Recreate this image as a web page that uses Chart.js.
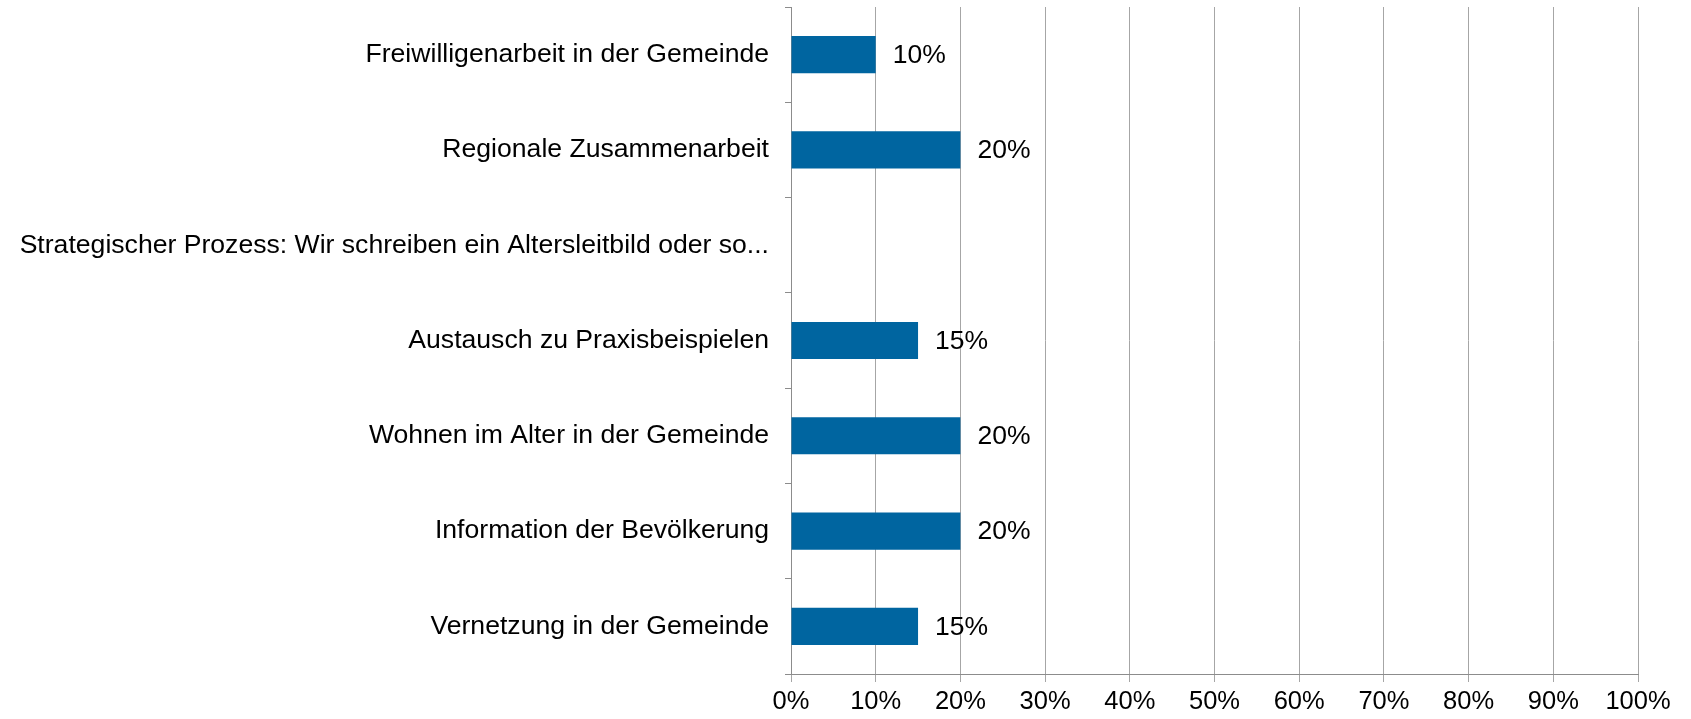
<!DOCTYPE html>
<html lang="de">
<head>
<meta charset="utf-8">
<style>
  html, body { margin: 0; padding: 0; background: #fff; }
</style>
</head>
<body>
<canvas id="myChart" width="1691" height="719"></canvas>
<script src="https://cdn.jsdelivr.net/npm/chart.js"></script>
<script>
const categories = [
  'Freiwilligenarbeit in der Gemeinde',
  'Regionale Zusammenarbeit',
  'Strategischer Prozess: Wir schreiben ein Altersleitbild oder so...',
  'Austausch zu Praxisbeispielen',
  'Wohnen im Alter in der Gemeinde',
  'Information der Bevölkerung',
  'Vernetzung in der Gemeinde'
];
const shares = [10, 20, 0, 15, 20, 20, 15];
const xTicks = [0, 10, 20, 30, 40, 50, 60, 70, 80, 90, 100];

const FONT = "'Liberation Sans', Arial, sans-serif";

// value labels to the right of each bar
const valueLabels = {
  id: 'valueLabels',
  afterDatasetsDraw(chart) {
    const ctx = chart.ctx;
    const meta = chart.getDatasetMeta(0);
    ctx.save();
    ctx.font = '26.5px ' + FONT;
    ctx.fillStyle = '#000';
    ctx.textAlign = 'left';
    ctx.textBaseline = 'middle';
    meta.data.forEach((bar, i) => {
      if (!shares[i]) return;
      ctx.fillText(shares[i] + '%', bar.x + 17, bar.y + 1);
    });
    ctx.restore();
  }
};

const config = {
  type: 'bar',
  data: {
    labels: categories,
    datasets: [{
      data: shares,
      backgroundColor: '#0065a0',
      borderWidth: 0,
      barPercentage: 0.39,
      categoryPercentage: 1
    }]
  },
  options: {
    indexAxis: 'y',
    responsive: false,
    animation: false,
    events: [],
    layout: { padding: { top: 7, right: 53, left: 0, bottom: 0 } },
    plugins: {
      legend: { display: false },
      tooltip: { enabled: false }
    },
    scales: {
      x: {
        min: 0,
        max: 100,
        afterBuildTicks: (scale) => { scale.ticks = xTicks.map(v => ({ value: v })); },
        afterFit: (scale) => { scale.height = 45; scale.paddingLeft = 0; scale.paddingRight = 0; },
        border: { color: '#8c8c8c', width: 1 },
        grid: {
          color: '#a6a6a6',
          lineWidth: 1,
          tickLength: 8,
          drawTicks: true
        },
        ticks: {
          callback: (v) => v + '%',
          color: '#000',
          padding: 5,
          maxRotation: 0,
          font: { family: FONT, size: 25.5 }
        }
      },
      y: {
        afterFit: (scale) => { scale.width = 791; scale.paddingTop = 0; scale.paddingBottom = 0; },
        border: { color: '#8c8c8c', width: 1 },
        grid: {
          offset: true,
          drawOnChartArea: false,
          color: '#8c8c8c',
          tickLength: 6
        },
        ticks: {
          color: '#000',
          padding: 16,
          autoSkip: false,
          font: { family: FONT, size: 26.6 }
        }
      }
    }
  },
  plugins: [valueLabels]
};

const myChart = new Chart(document.getElementById('myChart'), config);
</script>
</body>
</html>
